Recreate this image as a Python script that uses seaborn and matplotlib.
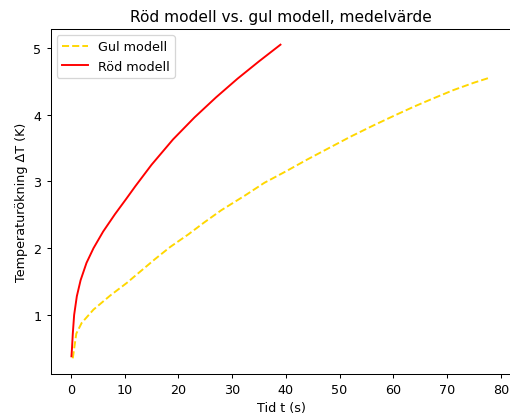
import matplotlib
matplotlib.use("Agg")
import matplotlib.pyplot as plt
import seaborn as sns
import pandas as pd

# Gul modell (yellow, dashed)
gul_t = [0.35, 1.0, 2.0, 4.2, 7.3, 10.4, 12.9, 15.7, 18.5, 21.9, 24.7, 28, 32.4, 36,
         40.2, 44, 48, 52, 56.3, 60, 63.8, 67, 71.2, 75, 78.1]
gul_y = [0.35, 0.72, 0.88, 1.08, 1.29, 1.48, 1.65, 1.84, 2.02, 2.21, 2.38, 2.57,
         2.79, 2.98, 3.16, 3.33, 3.50, 3.67, 3.84, 3.98, 4.12, 4.23, 4.37, 4.48, 4.56]

# Röd modell (red, solid)
rod_t = [0.1, 0.2, 0.35, 0.6, 1.1, 1.8, 2.9, 4.2, 6.0, 8.2, 10.3, 12, 15, 19, 23,
         27, 31, 35, 39]
rod_y = [0.38, 0.50, 0.72, 1.00, 1.28, 1.52, 1.78, 2.00, 2.25, 2.51, 2.74, 2.93,
         3.25, 3.63, 3.96, 4.26, 4.54, 4.80, 5.05]

title = "Röd modell vs. gul modell, medelvärde"
xlabel = "Tid t (s)"
ylabel = "Temperaturökning ΔT (K)"
xticks = [0, 10, 20, 30, 40, 50, 60, 70, 80]
yticks = [1, 2, 3, 4, 5]

df_gul = pd.DataFrame({"t": gul_t, "y": gul_y})
df_rod = pd.DataFrame({"t": rod_t, "y": rod_y})

DPI = 92
fig = plt.figure(figsize=(510 / DPI, 419 / DPI), dpi=DPI)
ax = fig.add_axes([50.5 / 510, (419 - 375) / 419, (511.5 - 50.5) / 510, (375 - 30) / 419])

sns.lineplot(data=df_gul, x="t", y="y", ax=ax, color="gold", linestyle="--",
             label="Gul modell", sort=False, estimator=None)
sns.lineplot(data=df_rod, x="t", y="y", ax=ax, color="red", linestyle="-",
             label="Röd modell", sort=False, estimator=None)

ax.set_title(title, fontsize=12)
ax.set_xlabel(xlabel)
ax.set_ylabel(ylabel)
ax.set_xticks(xticks)
ax.set_yticks(yticks)
ax.legend(loc="upper left")

fig.savefig("out.png", dpi=DPI)
